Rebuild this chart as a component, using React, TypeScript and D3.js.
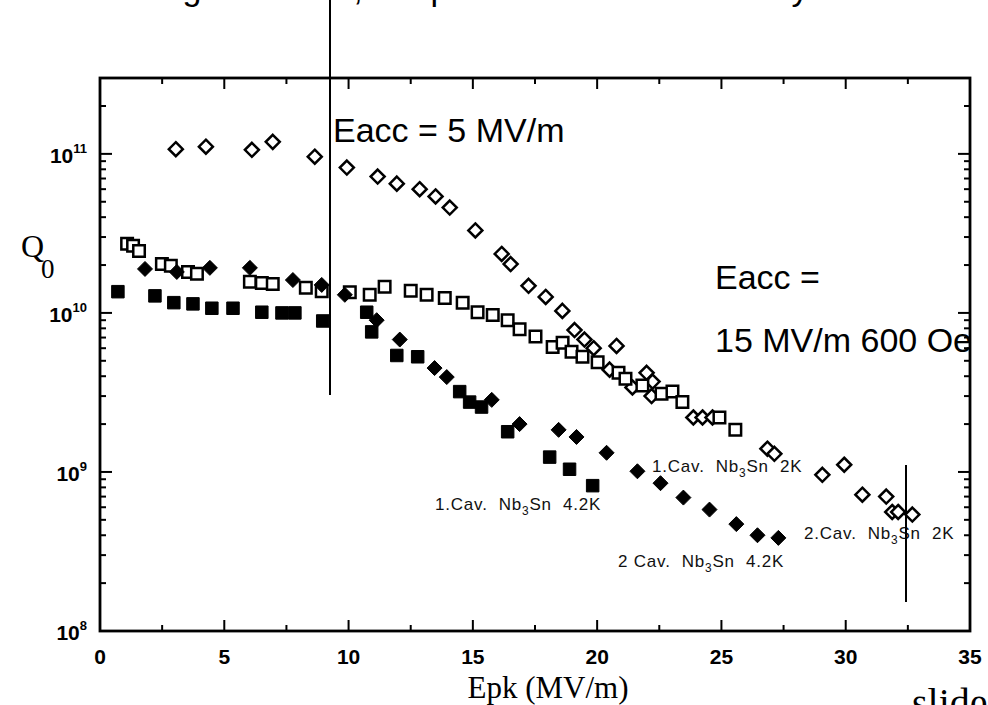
import React from 'react';
import * as d3 from 'd3';

// 2.Cav. Nb3Sn 2K (open diamonds)
const cav2K2x = [3.05, 4.26, 6.11, 6.95, 8.64, 9.93, 11.17, 11.94, 12.86, 13.5, 14.07, 15.1, 16.16, 16.52, 17.24, 17.93, 18.6, 19.09, 19.49, 19.86, 20.78, 20.5, 21.99, 22.23, 21.42, 22.19, 23.87, 24.24, 24.64, 26.85, 27.13, 29.06, 29.94, 30.67, 31.63, 31.87, 32.11, 32.68];
const cav2K2q = [1.07e11, 1.11e11, 1.06e11, 1.19e11, 9.6e10, 8.2e10, 7.2e10, 6.5e10, 6.0e10, 5.4e10, 4.6e10, 3.3e10, 2.35e10, 2.03e10, 1.48e10, 1.26e10, 1.03e10, 7.8e9, 6.8e9, 6.0e9, 6.2e9, 4.4e9, 4.2e9, 3.7e9, 3.4e9, 3.0e9, 2.2e9, 2.2e9, 2.2e9, 1.4e9, 1.3e9, 9.6e8, 1.11e9, 7.2e8, 7.0e8, 5.6e8, 5.6e8, 5.4e8];

// 1.Cav. Nb3Sn 2K (open squares)
const cav1K2x = [1.09, 1.33, 1.57, 2.49, 2.85, 3.54, 3.9, 6.03, 6.51, 6.95, 8.28, 8.92, 10.05, 10.85, 11.45, 12.5, 13.14, 13.87, 14.59, 15.19, 15.8, 16.4, 16.88, 17.52, 18.21, 18.61, 18.97, 19.41, 20.02, 20.86, 21.14, 21.82, 22.59, 23.03, 23.43, 24.92, 25.56];
const cav1K2q = [2.72e10, 2.64e10, 2.45e10, 2.03e10, 1.98e10, 1.81e10, 1.76e10, 1.57e10, 1.54e10, 1.52e10, 1.44e10, 1.37e10, 1.35e10, 1.3e10, 1.46e10, 1.38e10, 1.3e10, 1.24e10, 1.16e10, 1.01e10, 9.7e9, 9.0e9, 7.9e9, 7.1e9, 6.1e9, 6.5e9, 5.7e9, 5.3e9, 4.9e9, 4.2e9, 3.85e9, 3.5e9, 3.1e9, 3.2e9, 2.75e9, 2.2e9, 1.84e9];

// 1.Cav. Nb3Sn 4.2K (filled squares)
const cav1K42x = [0.72, 2.21, 2.97, 3.74, 4.5, 5.35, 6.51, 7.32, 7.84, 8.96, 10.73, 10.93, 11.94, 12.78, 14.47, 14.87, 15.35, 16.4, 18.09, 18.89, 19.82];
const cav1K42q = [1.36e10, 1.28e10, 1.16e10, 1.14e10, 1.07e10, 1.07e10, 1.01e10, 1.0e10, 1.0e10, 8.9e9, 1.01e10, 7.6e9, 5.4e9, 5.3e9, 3.2e9, 2.75e9, 2.56e9, 1.79e9, 1.24e9, 1.04e9, 8.2e8];

// 2 Cav. Nb3Sn 4.2K (filled diamonds)
const cav2K42x = [1.81, 3.09, 4.42, 6.03, 7.76, 8.92, 9.85, 11.13, 12.06, 13.46, 13.95, 15.76, 16.88, 18.45, 19.17, 20.38, 21.62, 22.55, 23.47, 24.52, 25.6, 26.45, 27.29];
const cav2K42q = [1.89e10, 1.81e10, 1.92e10, 1.92e10, 1.61e10, 1.5e10, 1.3e10, 9.0e9, 6.8e9, 4.5e9, 3.95e9, 2.84e9, 2.0e9, 1.84e9, 1.66e9, 1.32e9, 1.01e9, 8.5e8, 6.9e8, 5.8e8, 4.7e8, 4.0e8, 3.85e8];

const xTicks = [0, 5, 10, 15, 20, 25, 30, 35];
const xMinorTicks = [2.5, 7.5, 12.5, 17.5, 22.5, 27.5, 32.5];
const yDecades = [8, 9, 10, 11];

const W = 988;
const H = 705;
const left = 100, right = 970, top = 78, bottom = 631;

const sans = 'Liberation Sans, Arial, sans-serif';
const serif = 'Liberation Serif, Times New Roman, serif';

const diamond = (r: number) => `M0,${-r}L${r},0L0,${r}L${-r},0Z`;
const square = (s: number) => `M${-s / 2},${-s / 2}h${s}v${s}h${-s}Z`;

const Nb3Sn = ({ size }: { size: number }) => (
  <>
    {'Nb'}
    <tspan dy={size * 0.3} fontSize={size * 0.7}>3</tspan>
    <tspan dy={-size * 0.3}>Sn</tspan>
  </>
);

export default function App() {
  const x = d3.scaleLinear().domain([0, 35]).range([left, right]);
  const y = d3.scaleLog().domain([1e8, 3e11]).range([bottom, top]);

  const minorY: number[] = [];
  yDecades.forEach(d => {
    for (let k = 2; k <= 9; k++) {
      const v = k * Math.pow(10, d);
      if (v < 3e11) minorY.push(v);
    }
  });

  const series = [
    { xs: cav2K2x, qs: cav2K2q, d: diamond(7), fill: '#fff', sw: 2.5 },
    { xs: cav1K2x, qs: cav1K2q, d: square(11.5), fill: '#fff', sw: 2.5 },
    { xs: cav1K42x, qs: cav1K42q, d: square(12.5), fill: '#000', sw: 1 },
    { xs: cav2K42x, qs: cav2K42q, d: diamond(7.5), fill: '#000', sw: 1 },
  ];

  const labelSize = 17;

  return (
    <svg width={W} height={H} style={{ position: 'absolute', left: 0, top: 0, background: '#fff' }}>
      <rect width={W} height={H} fill="#fff" />

      {/* line of slide text above the chart, only its descenders show */}
      <g fontFamily={sans} fontSize={34} fill="#000" textAnchor="middle">
        <text x={192} y={0}>g</text>
        <text x={358} y={0}>,</text>
        <text x={440} y={0}>p</text>
        <text x={800} y={0}>y</text>
      </g>

      {/* frame */}
      <rect x={left} y={top} width={right - left} height={bottom - top} fill="none" stroke="#000" strokeWidth={2.8} />

      {/* ticks */}
      <g stroke="#000" strokeWidth={2}>
        {xTicks.map(t => (
          <g key={'xt' + t}>
            <line x1={x(t)} x2={x(t)} y1={bottom} y2={bottom - 11} />
            <line x1={x(t)} x2={x(t)} y1={top} y2={top + 11} />
          </g>
        ))}
        {xMinorTicks.map(t => (
          <g key={'xm' + t}>
            <line x1={x(t)} x2={x(t)} y1={bottom} y2={bottom - 6} />
            <line x1={x(t)} x2={x(t)} y1={top} y2={top + 6} />
          </g>
        ))}
        {yDecades.map(d => (
          <g key={'yt' + d}>
            <line x1={left} x2={left + 12} y1={y(Math.pow(10, d))} y2={y(Math.pow(10, d))} />
            <line x1={right} x2={right - 12} y1={y(Math.pow(10, d))} y2={y(Math.pow(10, d))} />
          </g>
        ))}
        {minorY.map(v => (
          <g key={'ym' + v}>
            <line x1={left} x2={left + 6} y1={y(v)} y2={y(v)} />
            <line x1={right} x2={right - 6} y1={y(v)} y2={y(v)} />
          </g>
        ))}
      </g>

      {/* x tick labels */}
      <g fontFamily={sans} fontWeight="bold" fontSize={21} textAnchor="middle" fill="#000">
        {xTicks.map(t => (
          <text key={'xl' + t} x={x(t)} y={664}>{t}</text>
        ))}
      </g>

      {/* y tick labels */}
      <g fontFamily={sans} fontWeight="bold" fill="#000">
        {yDecades.map(d => (
          <text key={'yl' + d} x={87} y={y(Math.pow(10, d)) + 9} textAnchor="end" fontSize={21}>
            10<tspan dy={-10} fontSize={13}>{d}</tspan>
          </text>
        ))}
      </g>

      {/* axis titles */}
      <text x={21} y={257} fontFamily={serif} fontSize={32} fill="#000">Q</text>
      <text x={41} y={278} fontFamily={serif} fontSize={27} fill="#000">0</text>
      <text x={548} y={698} fontFamily={serif} fontSize={31} textAnchor="middle" fill="#000">Epk (MV/m)</text>
      <text x={912} y={716} fontFamily={serif} fontSize={40} fill="#000">slide</text>

      {/* data */}
      {series.map((s, si) => (
        <g key={'s' + si} fill={s.fill} stroke="#000" strokeWidth={s.sw}>
          {s.xs.map((xv, i) => (
            <path key={i} d={s.d} transform={`translate(${x(xv)},${y(s.qs[i])})`} />
          ))}
        </g>
      ))}

      {/* series labels */}
      <g fontFamily={sans} fontSize={labelSize} fill="#111" letterSpacing={0.8}>
        <text x={652} y={472} xmlSpace="preserve">{'1.Cav.  '}<Nb3Sn size={labelSize} />{'  2K'}</text>
        <text x={435} y={510} xmlSpace="preserve">{'1.Cav.  '}<Nb3Sn size={labelSize} />{'  4.2K'}</text>
        <text x={618} y={567} xmlSpace="preserve">{'2 Cav.  '}<Nb3Sn size={labelSize} />{'  4.2K'}</text>
        <text x={804} y={539} xmlSpace="preserve">{'2.Cav.  '}<Nb3Sn size={labelSize} />{'  2K'}</text>
      </g>

      {/* vertical markers */}
      <line x1={330} x2={330} y1={0} y2={395} stroke="#000" strokeWidth={2} />
      <line x1={906} x2={906} y1={465} y2={602} stroke="#000" strokeWidth={2} />

      {/* annotations */}
      <g fontFamily={sans} fontSize={34} fill="#000">
        <text x={333} y={142}>Eacc = 5 MV/m</text>
        <text x={715} y={289}>Eacc =</text>
        <text x={715} y={352}>15 MV/m 600 Oe</text>
      </g>
    </svg>
  );
}
